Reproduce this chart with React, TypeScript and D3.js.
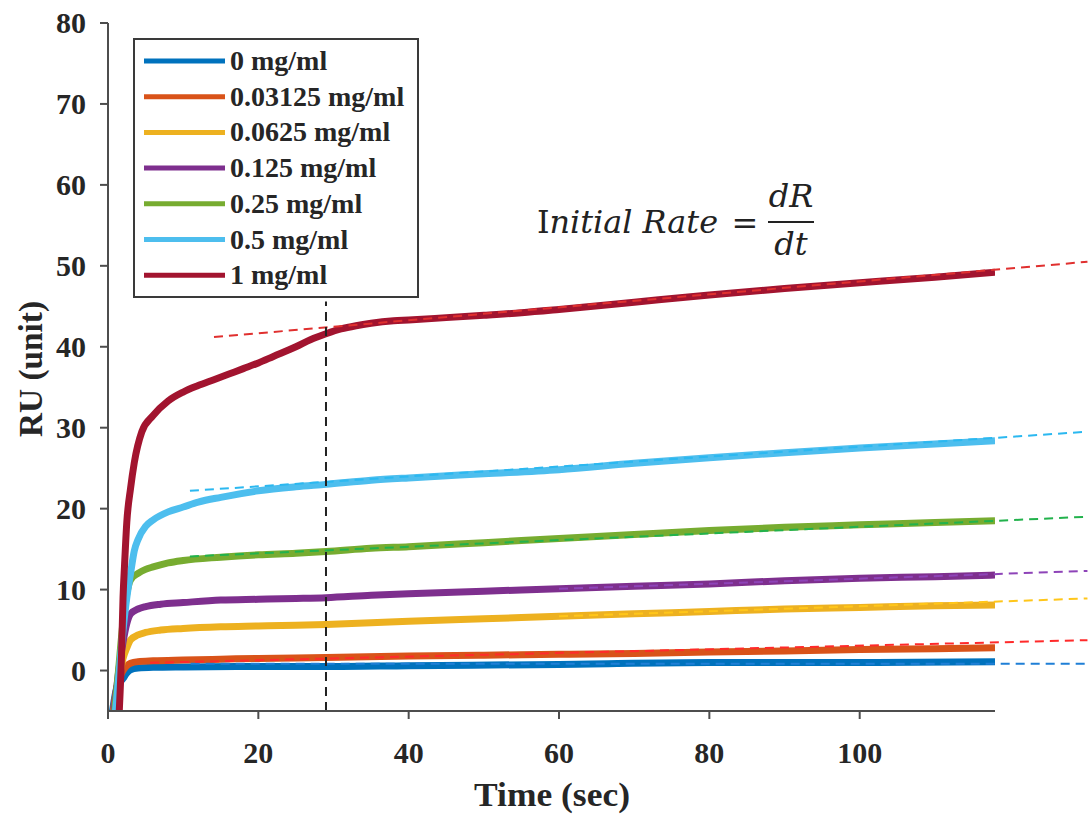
import React from "react";
import * as d3 from "d3";

const seriesNames = ["0 mg/ml", "0.03125 mg/ml", "0.0625 mg/ml", "0.125 mg/ml", "0.25 mg/ml", "0.5 mg/ml", "1 mg/ml"];
const seriesColors = ["#0072BD", "#D95319", "#EDB120", "#7E2F8E", "#77AC30", "#4DBEEE", "#A2142F"];

const s0: [number, number][] = [[0.6,-5],[1.2,-2],[2.0,-1],[2.5,-0.3],[3,0.1],[4,0.3],[6,0.4],[10,0.45],[20,0.5],[29,0.5],[40,0.6],[60,0.75],[80,1.0],[100,1.0],[118,1.1]];
const s1: [number, number][] = [[0.7,-5],[1.2,-2],[2.0,0],[2.5,0.6],[3,0.9],[4,1.1],[6,1.2],[10,1.3],[15,1.4],[20,1.5],[29,1.6],[40,1.8],[50,1.9],[60,2.0],[70,2.1],[80,2.3],[90,2.4],[100,2.6],[110,2.7],[118,2.8]];
const s2: [number, number][] = [[0.8,-5],[1.3,-2],[2.0,1.5],[2.5,2.8],[3,3.8],[4,4.4],[5,4.7],[7,5.0],[10,5.2],[15,5.4],[20,5.5],[25,5.6],[29,5.7],[35,5.9],[40,6.1],[50,6.4],[60,6.7],[70,7.0],[80,7.3],[90,7.6],[100,7.8],[110,8.0],[118,8.1]];
const s3: [number, number][] = [[0.8,-5],[1.3,-1],[2.0,3.5],[2.5,5.8],[3,7.0],[4,7.6],[5,7.9],[7,8.2],[10,8.4],[15,8.7],[20,8.8],[25,8.9],[29,9.0],[35,9.3],[40,9.5],[50,9.8],[60,10.1],[70,10.4],[80,10.7],[90,11.1],[100,11.4],[110,11.6],[118,11.8]];
const s4: [number, number][] = [[0.9,-5],[1.4,0],[2.0,6],[2.5,9.5],[3.0,11.2],[4,12.0],[5,12.5],[6,12.8],[8,13.3],[10,13.6],[15,14.0],[20,14.3],[25,14.5],[29,14.7],[35,15.1],[40,15.3],[50,15.8],[60,16.3],[70,16.8],[80,17.3],[90,17.7],[100,18.0],[110,18.3],[118,18.5]];
const s5: [number, number][] = [[1.0,-5],[1.5,0],[2.0,5],[2.5,9],[3.0,12],[3.5,14.8],[4,16.2],[5,17.8],[6,18.6],[8,19.6],[10,20.2],[12,20.8],[15,21.4],[20,22.2],[25,22.7],[29,23.0],[35,23.5],[40,23.8],[50,24.3],[60,24.8],[70,25.6],[80,26.3],[90,26.9],[100,27.5],[110,28.0],[118,28.4]];
const s6: [number, number][] = [[1.5,-5],[1.8,2],[2.0,9],[2.2,13],[2.5,18.3],[3.0,22.5],[3.5,25.7],[4.5,29.5],[6,31.5],[8,33.3],[10,34.4],[12,35.2],[14,35.9],[16,36.6],[18,37.3],[20,38.0],[22,38.8],[25,40.0],[27,40.9],[29,41.6],[31,42.2],[33,42.6],[35,42.9],[38,43.2],[40,43.3],[45,43.6],[50,43.9],[55,44.2],[60,44.6],[70,45.5],[80,46.4],[90,47.2],[100,47.9],[110,48.6],[118,49.2]];
const seriesData = [s0, s1, s2, s3, s4, s5, s6];

// tangent (initial-rate) dashed lines: [t0, v0, t1, v1]
const tangentLines: [number, number, number, number][] = [
  [11, 0.85, 130.3, 0.85],
  [5.6, 0.95, 130.3, 3.75],
  [60, 6.7, 130.3, 8.9],
  [60, 10.1, 130.3, 12.3],
  [10.9, 14.1, 130.3, 19.0],
  [10.9, 22.2, 130.3, 29.5],
  [14.1, 41.2, 130.3, 50.5],
];
const tangentColors = ["#1f7fd6", "#ff2a2a", "#ffc61a", "#8e44b8", "#22b24c", "#2bb8f0", "#e0302f"];

const markerTime = 29;
const markerRange: [number, number] = [-5, 45.6];

const xTicks = [0, 20, 40, 60, 80, 100];
const yTicks = [0, 10, 20, 30, 40, 50, 60, 70, 80];

export default function App() {
  const left = 108, right = 995, top = 23, bottom = 711;
  const x = d3.scaleLinear().domain([0, 118]).range([left, right]);
  const y = d3.scaleLinear().domain([-5, 80]).range([bottom, top]);
  const line = d3.line<[number, number]>().x(d => x(d[0])).y(d => y(d[1])).curve(d3.curveMonotoneX);
  const font = "'Liberation Serif', 'Times New Roman', serif";
  const axisColor = "#4d4d4d";
  const textColor = "#262626";

  const legX = 134, legY = 39, legW = 284, legH = 258;
  const rowH = 35.7;

  return (
    <svg width={1088} height={816} style={{ position: "absolute", left: 0, top: 0, background: "#fff" }} fontFamily={font}>
      <defs>
        <clipPath id="plotClip">
          <rect x={left} y={top} width={right - left} height={bottom - top} />
        </clipPath>
      </defs>
      <rect x={0} y={0} width={1088} height={816} fill="#fff" />
      <g clipPath="url(#plotClip)">
        {seriesData.map((d, i) => (
          <path key={i} d={line(d) || ""} fill="none" stroke={seriesColors[i]} strokeWidth={7} strokeLinejoin="round" />
        ))}
      </g>
      {tangentLines.map((t, i) => (
        <line key={i} x1={x(t[0])} y1={y(t[1])} x2={x(t[2])} y2={y(t[3])} stroke={tangentColors[i]} strokeWidth={2} strokeDasharray="9 6" />
      ))}
      <line x1={x(markerTime)} x2={x(markerTime)} y1={y(markerRange[0])} y2={y(markerRange[1])} stroke="#222" strokeWidth={2} strokeDasharray="9 6" />
      <line x1={left} x2={left} y1={top} y2={bottom} stroke={axisColor} strokeWidth={2} />
      <line x1={left} x2={right} y1={bottom} y2={bottom} stroke={axisColor} strokeWidth={2} />
      {yTicks.map(v => (
        <g key={v}>
          <line x1={left - 8} x2={left} y1={y(v)} y2={y(v)} stroke={axisColor} strokeWidth={2} />
          <text x={86} y={y(v) + 10} textAnchor="end" fontSize={30} fontWeight="bold" fill={textColor}>{v}</text>
        </g>
      ))}
      {xTicks.map(v => (
        <g key={v}>
          <line x1={x(v)} x2={x(v)} y1={bottom} y2={bottom + 8} stroke={axisColor} strokeWidth={2} />
          <text x={x(v)} y={763} textAnchor="middle" fontSize={30} fontWeight="bold" fill={textColor}>{v}</text>
        </g>
      ))}
      <text x={552} y={806} textAnchor="middle" fontSize={33} fontWeight="bold" fill={textColor} textLength={156} lengthAdjust="spacingAndGlyphs">Time (sec)</text>
      <text transform={`translate(42,369) rotate(-90)`} textAnchor="middle" fontSize={33} fontWeight="bold" fill={textColor} textLength={136} lengthAdjust="spacingAndGlyphs">RU (unit)</text>
      <g fontFamily="'DejaVu Serif', serif" fill="#222">
        <text x={537} y={233} fontSize={32} textLength={181} lengthAdjust="spacingAndGlyphs"><tspan>I</tspan><tspan fontStyle="italic">nitial Rate</tspan></text>
        <text x={745} y={234} fontSize={32} textAnchor="middle">=</text>
        <text x={791} y={207} fontSize={32} fontStyle="italic" textAnchor="middle">dR</text>
        <line x1={768} x2={814} y1={222} y2={222} stroke="#222" strokeWidth={2} />
        <text x={791} y={255} fontSize={32} fontStyle="italic" textAnchor="middle">dt</text>
      </g>
      <rect x={legX} y={legY} width={legW} height={legH} fill="#fff" stroke="#3a3a3a" strokeWidth={2} />
      {seriesNames.map((n, i) => (
        <g key={n}>
          <line x1={144} x2={225} y1={61 + i * rowH} y2={61 + i * rowH} stroke={seriesColors[i]} strokeWidth={5} />
          <text x={230} y={61 + i * rowH + 9} fontSize={28} fontWeight="bold" fill={textColor}>{n}</text>
        </g>
      ))}
    </svg>
  );
}
